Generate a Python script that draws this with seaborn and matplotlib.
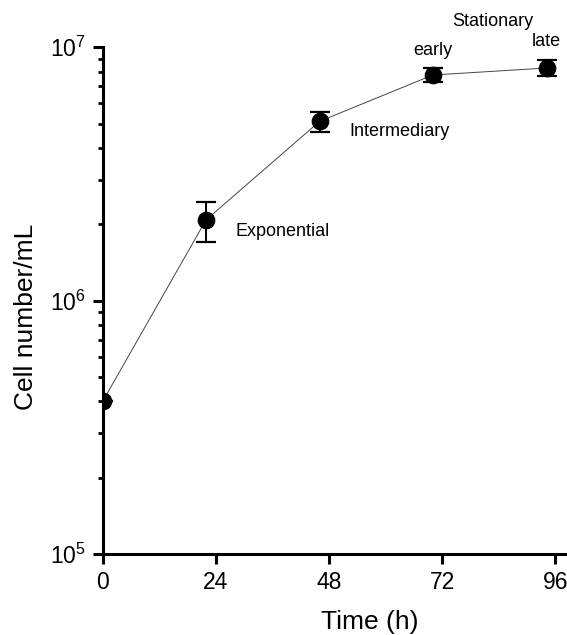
import numpy as np
import pandas as pd
import matplotlib
matplotlib.use("Agg")
import matplotlib.pyplot as plt
import seaborn as sns
from matplotlib.ticker import LogLocator, NullFormatter

# growth curve values
time_h = [0, 21.9, 46.0, 70.0, 94.1]
cells = [4.0e5, 2.08e6, 5.1e6, 7.77e6, 8.28e6]
cells_err = [0, 3.8e5, 4.7e5, 4.8e5, 5.9e5]
x_ticks = [0, 24, 48, 72, 96]

phase_labels = ["Exponential", "Intermediary", "early", "late", "Stationary"]
label_x = [28.1, 52.4, 70.0, 94.1, 82.6]
label_y = [1.87e6, 4.63e6, 9.7e6, 1.05e7, 1.26e7]
label_ha = ["left", "left", "center", "center", "center"]

df = pd.DataFrame({"Time": time_h, "Cells": cells, "Err": cells_err})

sns.set_style("ticks")
plt.rcParams["font.family"] = ["Liberation Sans", "DejaVu Sans"]
plt.rcParams["mathtext.fontset"] = "custom"
plt.rcParams["mathtext.rm"] = "Liberation Sans"
plt.rcParams["text.color"] = "black"
plt.rcParams["axes.labelcolor"] = "black"
plt.rcParams["xtick.color"] = "black"
plt.rcParams["ytick.color"] = "black"
plt.rcParams["axes.edgecolor"] = "black"

fig = plt.figure(figsize=(5.67, 6.35), dpi=100)
ax = fig.add_axes([0.181, 0.1276, 0.817, 0.798])

ax.errorbar(df["Time"], df["Cells"], yerr=df["Err"], fmt="none", ecolor="black",
            elinewidth=1.4, capsize=7.5, capthick=1.6, zorder=2)
sns.lineplot(data=df, x="Time", y="Cells", ax=ax, color="#444444", linewidth=0.7,
             marker="o", markersize=12, markerfacecolor="black", markeredgecolor="black",
             zorder=3)

ax.set_yscale("log")
ax.set_ylim(1e5, 1e7)
ax.set_xlim(0, 98.2)
ax.set_xticks(x_ticks)
ax.set_xticklabels([str(t) for t in x_ticks])
ax.yaxis.set_minor_locator(LogLocator(base=10, subs=np.arange(2, 10)))
ax.yaxis.set_minor_formatter(NullFormatter())

for txt, lx, ly, ha in zip(phase_labels, label_x, label_y, label_ha):
    ax.text(lx, ly, txt, ha=ha, va="center", fontsize=13, color="black", clip_on=False)

sns.despine(ax=ax)
for side in ["left", "bottom"]:
    ax.spines[side].set_linewidth(2.2)
    ax.spines[side].set_color("black")
ax.tick_params(axis="both", which="major", width=2.2, length=7, labelsize=16.5, pad=5)
ax.tick_params(axis="y", which="minor", width=2.0, length=3.5)

ax.set_xlabel("Time (h)", fontsize=19)
ax.set_ylabel("Cell number/mL", fontsize=19)
ax.xaxis.set_label_coords(0.577, -0.11)
ax.yaxis.set_label_coords(-0.14, 0.468)

plt.savefig("out.png", dpi=100)
